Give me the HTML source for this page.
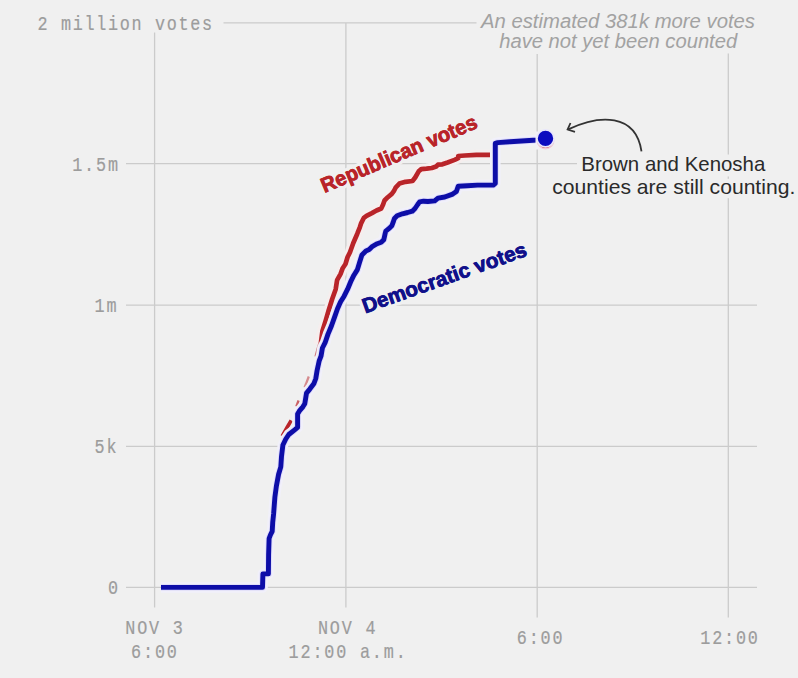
<!DOCTYPE html>
<html><head><meta charset="utf-8"><title>Wisconsin vote count</title>
<style>
html,body{margin:0;padding:0;background:#f0f0f0;}
body{width:798px;height:678px;overflow:hidden;}
svg{display:block;}
.mono{font-family:"Liberation Mono","DejaVu Sans Mono",monospace;font-size:20px;fill:#9c9c9c;stroke:#9c9c9c;stroke-width:0.2px;}
.grid{stroke:#cbcbcb;stroke-width:1.3;fill:none;}
.note{font-family:"Liberation Sans",Arial,sans-serif;font-style:italic;font-size:20px;fill:#a2a2a2;}
.ann{font-family:"Liberation Sans",Arial,sans-serif;font-size:21px;fill:#2a2a2a;}
.halo{paint-order:stroke;stroke:#f0f0f0;stroke-linejoin:round;}
.lab{font-family:"Liberation Sans",Arial,sans-serif;font-weight:bold;font-size:20.8px;}
</style></head>
<body>
<svg width="798" height="678" viewBox="0 0 798 678">
<rect width="798" height="678" fill="#f0f0f0"/>
<g class="grid">
<line x1="223.5" y1="22.9" x2="476.5" y2="22.9"/>
<line x1="126" y1="163.7" x2="757" y2="163.7"/>
<line x1="126" y1="305.2" x2="757" y2="305.2"/>
<line x1="126" y1="446.3" x2="757" y2="446.3"/>
<line x1="126" y1="587.4" x2="757" y2="587.4"/>
<line x1="154.6" y1="32.5" x2="154.6" y2="607.5"/>
<line x1="345.9" y1="22.9" x2="345.9" y2="607.5"/>
<line x1="537.2" y1="54" x2="537.2" y2="617.5"/>
<line x1="728.3" y1="53.5" x2="728.3" y2="617.5"/>
</g>
<g class="mono">
<text transform="translate(37.50,30) scale(0.84,1)" style="letter-spacing:1.988px">2 million votes</text>
<text transform="translate(72.22,170.8) scale(0.84,1)" style="letter-spacing:2.167px">1.5m</text>
<text transform="translate(94.52,312) scale(0.84,1)" style="letter-spacing:2.167px">1m</text>
<text transform="translate(94.52,453.3) scale(0.84,1)" style="letter-spacing:2.167px">5k</text>
<text transform="translate(108.12,594.3) scale(0.84,1)" style="letter-spacing:2.167px">0</text>
<text transform="translate(125.26,634.4) scale(0.84,1)" style="letter-spacing:2.167px">NOV 3</text>
<text transform="translate(131.11,658.2) scale(0.84,1)" style="letter-spacing:2.167px">6:00</text>
<text transform="translate(317.96,634.2) scale(0.84,1)" style="letter-spacing:2.167px">NOV 4</text>
<text transform="translate(288.61,658.4) scale(0.84,1)" style="letter-spacing:2.167px">12:00 a.m.</text>
<text transform="translate(516.81,643.7) scale(0.84,1)" style="letter-spacing:2.167px">6:00</text>
<text transform="translate(700.26,643.7) scale(0.84,1)" style="letter-spacing:2.167px">12:00</text>
</g>
<g class="note" text-anchor="middle">
<text x="618" y="28.3" textLength="274" lengthAdjust="spacingAndGlyphs">An estimated 381k more votes</text>
<text x="618.2" y="48.1" textLength="238" lengthAdjust="spacingAndGlyphs">have not yet been counted</text>
</g>
<g fill="none" stroke-linejoin="round" stroke-linecap="butt">
<polyline stroke="#f6eeee" stroke-width="10.4" points="318.2,345 322.4,331.3 325.9,320 328.7,310.2 332.2,299 335.7,289.2 337.1,280.1 340.6,273.8 342.7,268.2 345.5,264 347.6,257 350,252.3 353.3,243 357.3,233.7 359.9,227.1 361.2,223.1 363.9,217.8 366.5,215.8 371.9,213.1 376.5,210.5 381.2,208.5 383.1,204.5 384.5,200.5 387.8,197.2 391.8,193.9 393.8,191.2 395.8,187.3 399.4,183.6 405.5,181.8 412.5,181 415.2,177.5 418.7,171.3 421.3,169.1 426.6,168.7 431.8,168 436.2,166.5 438,164.7 442.4,164.3 447.6,162.5 454.6,159.9 458.2,158.2 458.2,156 465,155.5 476.4,154.9 490.8,154.9"/>
<polyline stroke="#b92429" stroke-width="4.7" points="161,587.4 262.5,587.4 262.9,573.9 268.4,573.9 268.6,554.5 269.1,538.5 270.4,535 272.2,531.4 272.7,522.6 273.6,514 274.9,497 276.4,486 278.6,474.2 280.8,466.9 281.5,456.5 284,440 287,435 293.5,428.5 296,424 296.3,414 298,409.5 301.5,405.5 303.3,402.5 305,392 308.3,388 312.3,382.6 314.3,377.3 315.6,369.5 317.6,360 319.2,352 320.5,346 322.4,331.3 325.9,320 328.7,310.2 332.2,299 335.7,289.2 337.1,280.1 340.6,273.8 342.7,268.2 345.5,264 347.6,257 350,252.3 353.3,243 357.3,233.7 359.9,227.1 361.2,223.1 363.9,217.8 366.5,215.8 371.9,213.1 376.5,210.5 381.2,208.5 383.1,204.5 384.5,200.5 387.8,197.2 391.8,193.9 393.8,191.2 395.8,187.3 399.4,183.6 405.5,181.8 412.5,181 415.2,177.5 418.7,171.3 421.3,169.1 426.6,168.7 431.8,168 436.2,166.5 438,164.7 442.4,164.3 447.6,162.5 454.6,159.9 458.2,158.2 458.2,156 465,155.5 476.4,154.9 490.8,154.9"/>
<polyline stroke="#b92429" stroke-width="3.6" points="282.2,436.2 286.8,428 291.2,420.3"/>
<polyline stroke="#b92429" stroke-width="2.4" stroke-opacity="0.7" points="296.4,406.5 298.6,400.5"/>
<polyline stroke="#b92429" stroke-width="2.2" stroke-opacity="0.5" points="304.6,387.5 308.8,376.5"/>
<polyline stroke="#b92429" stroke-width="1.6" stroke-opacity="0.6" points="315.2,356.5 317.2,349 318.6,344.5"/>
<polyline stroke="#f1f0fa" stroke-width="10.6" points="161,587.4 262.5,587.4 262.9,573.9 268.4,573.9 268.6,554.5 269.1,538.5 270.4,535 272.2,531.4 272.7,522.6 273.6,514 274.9,497 276.4,486 278.6,474.2 280.8,466.9 281.5,456.5 282.9,445 285.8,439 288.8,434.5 294.7,429.8 297.6,427.4 297.6,413.9 299.4,410.9 302.9,406.8 304.8,403.7 306.5,393.1 309.8,389.1 313.8,383.8 315.8,378.5 317.1,370.5 319.1,361.2 321.1,355.9 322.4,348 325.1,342.7 328,334.1 331.5,325.7 335,315.9 337.5,308.8 340.6,301.8 344.1,296.2 347.6,289.2 351.1,280.8 353.9,275.2 357.4,269.6 359.5,262.6 361.9,255 365.9,251 369.2,249.6 372.5,246.3 377.2,243.7 381.2,242.3 383.8,239.7 385.1,233.7 385.8,231.1 389.1,228.4 391.8,225.8 393.1,222.4 394.4,218.5 397.1,215.8 402.4,213.8 407.7,212.5 412.3,211.2 415,208.5 417.7,204.5 419.6,201.9 423.6,201.2 427.9,201.5 434.7,200.9 438,198.1 444.8,197 452.7,194.1 456.4,191.5 458.2,186.2 467.4,185.7 477.5,185.1 493.3,185.1 495.3,183.4 495.3,143.4 497.8,142.6 510,141.7 537,140 545.4,138"/>
<polyline stroke="#dfddf8" stroke-width="6.8" points="161,587.4 262.5,587.4 262.9,573.9 268.4,573.9 268.6,554.5 269.1,538.5 270.4,535 272.2,531.4 272.7,522.6 273.6,514 274.9,497 276.4,486 278.6,474.2 280.8,466.9 281.5,456.5 282.9,445 285.8,439 288.8,434.5 294.7,429.8 297.6,427.4 297.6,413.9 299.4,410.9 302.9,406.8 304.8,403.7 306.5,393.1 309.8,389.1 313.8,383.8 315.8,378.5 317.1,370.5 319.1,361.2 321.1,355.9 322.4,348 325.1,342.7 328,334.1 331.5,325.7 335,315.9 337.5,308.8 340.6,301.8 344.1,296.2 347.6,289.2 351.1,280.8 353.9,275.2 357.4,269.6 359.5,262.6 361.9,255 365.9,251 369.2,249.6 372.5,246.3 377.2,243.7 381.2,242.3 383.8,239.7 385.1,233.7 385.8,231.1 389.1,228.4 391.8,225.8 393.1,222.4 394.4,218.5 397.1,215.8 402.4,213.8 407.7,212.5 412.3,211.2 415,208.5 417.7,204.5 419.6,201.9 423.6,201.2 427.9,201.5 434.7,200.9 438,198.1 444.8,197 452.7,194.1 456.4,191.5 458.2,186.2 467.4,185.7 477.5,185.1 493.3,185.1 495.3,183.4 495.3,143.4 497.8,142.6 510,141.7 537,140 545.4,138"/>
<polyline stroke="#0d0da8" stroke-width="4.9" points="161,587.4 262.5,587.4 262.9,573.9 268.4,573.9 268.6,554.5 269.1,538.5 270.4,535 272.2,531.4 272.7,522.6 273.6,514 274.9,497 276.4,486 278.6,474.2 280.8,466.9 281.5,456.5 282.9,445 285.8,439 288.8,434.5 294.7,429.8 297.6,427.4 297.6,413.9 299.4,410.9 302.9,406.8 304.8,403.7 306.5,393.1 309.8,389.1 313.8,383.8 315.8,378.5 317.1,370.5 319.1,361.2 321.1,355.9 322.4,348 325.1,342.7 328,334.1 331.5,325.7 335,315.9 337.5,308.8 340.6,301.8 344.1,296.2 347.6,289.2 351.1,280.8 353.9,275.2 357.4,269.6 359.5,262.6 361.9,255 365.9,251 369.2,249.6 372.5,246.3 377.2,243.7 381.2,242.3 383.8,239.7 385.1,233.7 385.8,231.1 389.1,228.4 391.8,225.8 393.1,222.4 394.4,218.5 397.1,215.8 402.4,213.8 407.7,212.5 412.3,211.2 415,208.5 417.7,204.5 419.6,201.9 423.6,201.2 427.9,201.5 434.7,200.9 438,198.1 444.8,197 452.7,194.1 456.4,191.5 458.2,186.2 467.4,185.7 477.5,185.1 493.3,185.1 495.3,183.4 495.3,143.4 497.8,142.6 510,141.7 537,140 545.4,138"/>
</g>
<rect x="535.5" y="131.5" width="3.4" height="18" fill="#f1f0f6"/>
<circle cx="545.5" cy="140.4" r="8.2" fill="#b92429" stroke="#efc9d6" stroke-width="1.6"/>
<circle cx="545.5" cy="138.4" r="8.5" fill="#0b0bbf" stroke="#e8e6fb" stroke-width="1.6"/>

<g class="lab">
<text class="halo" style="stroke-width:7px" fill="#b92429" transform="translate(324.6,192.9) rotate(-23) " textLength="167.5" lengthAdjust="spacingAndGlyphs">Republican votes</text>
<text fill="#b92429" stroke="#b92429" stroke-width="0.7" transform="translate(324.6,192.9) rotate(-23) " textLength="167.5" lengthAdjust="spacingAndGlyphs">Republican votes</text>
<text class="halo" style="stroke-width:7px" fill="#10108a" transform="translate(365.2,313.4) rotate(-19.6)" textLength="173" lengthAdjust="spacingAndGlyphs">Democratic votes</text>
<text fill="#10108a" stroke="#10108a" stroke-width="0.7" transform="translate(365.2,313.4) rotate(-19.6)" textLength="173" lengthAdjust="spacingAndGlyphs">Democratic votes</text>
</g>
<rect x="577" y="154.5" width="200" height="22" fill="#f0f0f0"/>
<rect x="548" y="178.8" width="250" height="19.4" fill="#f0f0f0"/>
<g class="ann" text-anchor="middle">
<text x="673.3" y="171" textLength="184" lengthAdjust="spacingAndGlyphs">Brown and Kenosha</text>
<text x="673.8" y="193.5" textLength="243" lengthAdjust="spacingAndGlyphs">counties are still counting.</text>
</g>
<path d="M641.5,151.4 C635.7,113 599.3,114.6 568.2,129.4" fill="none" stroke="#333" stroke-width="1.8"/>
<path d="M570.5,123 L567.6,129.5 L575,131.8" fill="none" stroke="#333" stroke-width="1.8" stroke-linejoin="miter"/>
</svg>
</body></html>
